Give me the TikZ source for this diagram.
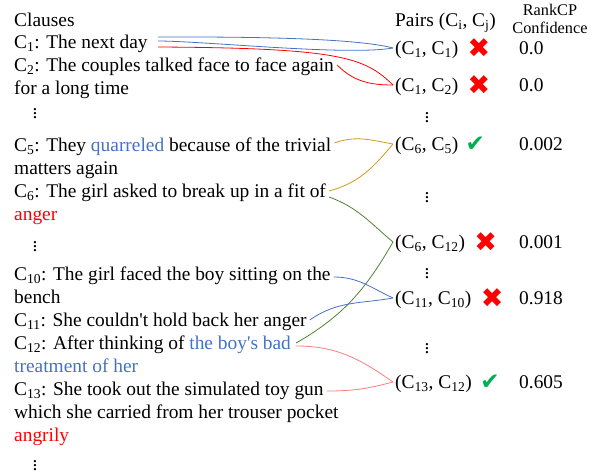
\documentclass[tikz,border=0pt]{standalone}
\usepackage{fontspec}
\setmainfont{Liberation Serif}
\newfontfamily\symbfont{DejaVu Sans}
\usepackage{xcolor}
\usetikzlibrary{positioning}

\definecolor{cblue}{HTML}{4472C4}
\definecolor{cred}{HTML}{FF0000}
\definecolor{cgold}{HTML}{CC9B1F}
\definecolor{cgreen}{HTML}{548235}
\definecolor{cpink}{HTML}{FF7C80}
\definecolor{cok}{HTML}{00B050}

\newcommand{\Cn}[1]{C\textsubscript{#1}}

\begin{document}
\begin{tikzpicture}[
  x=1pt, y=1pt,
  font=\fontsize{19.4}{23}\selectfont,
  txt/.style={anchor=base west, inner sep=2pt, text height=15pt, text depth=3pt},
  ell/.style={anchor=base, inner sep=0pt},
  wrong/.style={inner sep=0pt, text=cred, font=\symbfont\fontsize{27}{27}\selectfont},
  okay/.style={inner sep=0pt, text=cok, font=\symbfont\fontsize{23}{23}\selectfont},
  link/.style={line width=0.8pt}
]
\useasboundingbox (0,0) rectangle (594,-474);

% Clauses column
\node[txt] (hd) at (12,-26) {Clauses};
\node[txt] (c1) at (12,-48) {\Cn{1}: The next day};
\node[txt] (c2a) at (12,-71) {\Cn{2}: The couples talked face to face again};
\node[txt] (c2b) at (12,-94) {for a long time};
\node[ell] (d1) at (35,-118) {$\vdots$};
\node[txt] (c5a) at (12,-151) {\Cn{5}: They \textcolor{cblue}{quarreled} because of the trivial};
\node[txt] (c5b) at (12,-174) {matters again};
\node[txt] (c6a) at (12,-197) {\Cn{6}: The girl asked to break up in a fit of};
\node[txt] (c6b) at (12,-220) {\textcolor{cred}{anger}};
\node[ell] (d2) at (35,-251) {$\vdots$};
\node[txt] (c10a) at (12,-280) {\Cn{10}: The girl faced the boy sitting on the};
\node[txt] (c10b) at (12,-303) {bench};
\node[txt] (c11) at (12,-326) {\Cn{11}: She couldn\textquotesingle t hold back her anger};
\node[txt] (c12a) at (12,-349) {\Cn{12}: After thinking of \textcolor{cblue}{the boy\textquotesingle s bad}};
\node[txt] (c12b) at (12,-372) {\textcolor{cblue}{treatment of her}};
\node[txt] (c13a) at (12,-395) {\Cn{13}: She took out the simulated toy gun};
\node[txt] (c13b) at (12,-418) {which she carried from her trouser pocket};
\node[txt] (c13c) at (12,-441) {\textcolor{cred}{angrily}};
\node[ell] (d3) at (35,-470) {$\vdots$};

% Pairs column
\node[txt] (ph) at (393,-26) {Pairs (C\textsubscript{i}, C\textsubscript{j})};
\node[txt] (p11) at (393,-54) {(\Cn{1}, \Cn{1})};
\node[txt] (p12) at (393,-91) {(\Cn{1}, \Cn{2})};
\node[ell] (e1) at (427,-122) {$\vdots$};
\node[txt] (p65) at (393,-150) {(\Cn{6}, \Cn{5})};
\node[ell] (e2) at (427,-202) {$\vdots$};
\node[txt] (p612) at (393,-248) {(\Cn{6}, \Cn{12})};
\node[ell] (e3) at (427,-278) {$\vdots$};
\node[txt] (p1110) at (393,-304) {(\Cn{11}, \Cn{10})};
\node[ell] (e4) at (427,-353) {$\vdots$};
\node[txt] (p1312) at (393,-388) {(\Cn{13}, \Cn{12})};

% Verdicts
\node[wrong, right=7pt of p11] (v11) {✖};
\node[wrong, right=7pt of p12] (v12) {✖};
\node[okay, right=5pt of p65] (v65) {✔};
\node[wrong, right=7pt of p612] (v612) {✖};
\node[wrong, right=7pt of p1110] (v1110) {✖};
\node[okay, right=6pt of p1312] (v1312) {✔};

% Confidence column
\node[anchor=north, inner sep=0pt, align=center, font=\fontsize{16.3}{18}\selectfont] (rk) at (550,-4) {RankCP\\Confidence};
\node[txt] (s11) at (517,-54) {0.0};
\node[txt] (s12) at (517,-91) {0.0};
\node[txt] (s65) at (517,-150) {0.002};
\node[txt] (s612) at (517,-248) {0.001};
\node[txt] (s1110) at (517,-304) {0.918};
\node[txt] (s1312) at (517,-388) {0.605};

% Links
\draw[link, cblue] ([xshift=8pt, yshift=5pt]c1.east) to[out=0, in=165, looseness=0.5] (p11.west);
\draw[link, cblue] ([xshift=8pt, yshift=1pt]c1.east) to[out=0, in=190, looseness=0.5] (p11.west);
\draw[link, cred] ([xshift=8pt, yshift=-5pt]c1.east) .. controls +(185,-1) and +(-28,27) .. (p12.west);
\draw[link, cred] ([xshift=1pt]c2a.east) to[out=-45, in=180] (p12.west);
\draw[link, cgold] ([xshift=1pt, yshift=2pt]c5a.east) to[out=20, in=170] (p65.west);
\draw[link, cgold] ([xshift=1pt]c6a.east) to[out=15, in=230] (p65.west);
\draw[link, cgreen] ([xshift=1pt, yshift=-6pt]c6a.east) to[out=-20, in=140] (p612.west);
\draw[link, cgreen] ([xshift=3pt]c12a.east) to[out=30, in=240] (p612.west);
\draw[link, cblue] ([xshift=1pt, yshift=-3pt]c10a.east) to[out=0, in=155] (p1110.west);
\draw[link, cblue] ([xshift=1pt]c11.east) to[out=35, in=190] (p1110.west);
\draw[link, cpink] ([xshift=3pt, yshift=-3pt]c12a.east) to[out=0, in=145] (p1312.west);
\draw[link, cpink] ([xshift=1pt, yshift=-2pt]c13a.east) to[out=0, in=195] (p1312.west);
\end{tikzpicture}
\end{document}
